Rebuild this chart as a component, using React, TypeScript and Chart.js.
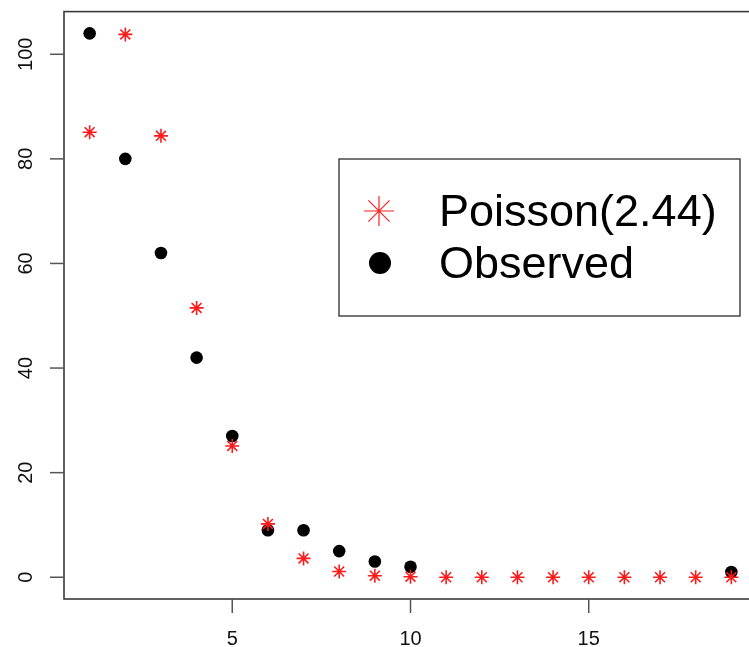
import React, { useEffect, useRef } from "react";
import { Chart, registerables } from "chart.js";

Chart.register(...registerables);

// ---- data ----
const observedX = [1, 2, 3, 4, 5, 6, 7, 8, 9, 10, 19];
const observedY = [104, 80, 62, 42, 27, 9, 9, 5, 3, 2, 1];
const poissonX = [1, 2, 3, 4, 5, 6, 7, 8, 9, 10, 11, 12, 13, 14, 15, 16, 17, 18, 19];
const poissonY = [85.1, 103.8, 84.4, 51.5, 25.1, 10.2, 3.6, 1.1, 0.3, 0.1, 0, 0, 0, 0, 0, 0, 0, 0, 0];
const xTicks = [5, 10, 15];
const yTicks = [0, 20, 40, 60, 80, 100];
const legendLabels = ["Poisson(2.44)", "Observed"];

const FONT = '"Liberation Sans", Arial, Helvetica, sans-serif';

const rAxesPlugin = {
  id: "rAxes",
  afterDraw(chart: any) {
    const { ctx, chartArea, scales } = chart;
    const { left, right, top, bottom } = chartArea;
    ctx.save();
    // box
    ctx.strokeStyle = "#3a3a3a";
    ctx.lineWidth = 1.6;
    ctx.strokeRect(left, top, right - left, bottom - top);
    // x ticks
    ctx.strokeStyle = "#555";
    ctx.lineWidth = 1.5;
    ctx.fillStyle = "#111";
    ctx.font = `20px ${FONT}`;
    ctx.textAlign = "center";
    ctx.textBaseline = "alphabetic";
    for (const v of xTicks) {
      const px = scales.x.getPixelForValue(v);
      ctx.beginPath();
      ctx.moveTo(px, bottom);
      ctx.lineTo(px, bottom + 14);
      ctx.stroke();
      ctx.fillText(String(v), px, 645);
    }
    // y ticks
    for (const v of yTicks) {
      const py = scales.y.getPixelForValue(v);
      ctx.beginPath();
      ctx.moveTo(left, py);
      ctx.lineTo(left - 14, py);
      ctx.stroke();
      ctx.save();
      ctx.translate(32, py);
      ctx.rotate(-Math.PI / 2);
      ctx.fillText(String(v), 0, 0);
      ctx.restore();
    }
    // legend
    const bx = 339, by = 159, bw = 401, bh = 157;
    ctx.fillStyle = "#fff";
    ctx.fillRect(bx, by, bw, bh);
    ctx.strokeStyle = "#3a3a3a";
    ctx.lineWidth = 1.4;
    ctx.strokeRect(bx, by, bw, bh);
    // star
    const sx = 379, sy = 211, sr = 15;
    ctx.strokeStyle = "#ff2020";
    ctx.lineWidth = 1.2;
    ctx.beginPath();
    for (let k = 0; k < 4; k++) {
      const a = (k * Math.PI) / 4;
      ctx.moveTo(sx - Math.cos(a) * sr, sy - Math.sin(a) * sr);
      ctx.lineTo(sx + Math.cos(a) * sr, sy + Math.sin(a) * sr);
    }
    ctx.stroke();
    // dot
    ctx.fillStyle = "#000";
    ctx.beginPath();
    ctx.arc(380, 263, 11, 0, Math.PI * 2);
    ctx.fill();
    ctx.font = `45px ${FONT}`;
    ctx.textAlign = "left";
    ctx.fillStyle = "#000";
    ctx.fillText(legendLabels[0], 439, 226);
    ctx.fillText(legendLabels[1], 439, 278);
    ctx.restore();
  },
};

export default function App() {
  const ref = useRef<HTMLCanvasElement>(null);
  useEffect(() => {
    document.body.style.margin = "0";
    const canvas = ref.current!;
    const chart = new Chart(canvas, {
      type: "scatter",
      data: {
        datasets: [
          {
            label: legendLabels[0],
            data: poissonX.map((x, i) => ({ x, y: poissonY[i] })),
            pointStyle: "star",
            pointRadius: 7,
            pointBorderColor: "#ff1a1a",
            pointBackgroundColor: "#ff1a1a",
            pointBorderWidth: 1.6,
            showLine: false,
          },
          {
            label: legendLabels[1],
            data: observedX.map((x, i) => ({ x, y: observedY[i] })),
            pointStyle: "circle",
            pointRadius: 6.3,
            pointBorderWidth: 0,
            pointBackgroundColor: "#000",
            pointBorderColor: "#000",
            showLine: false,
          },
        ],
      },
      options: {
        animation: false,
        responsive: false,
        events: [],
        layout: { padding: { left: 64, top: 11.6, bottom: 48, right: 13 } },
        plugins: { legend: { display: false }, tooltip: { enabled: false } },
        scales: {
          x: { type: "linear", min: 0.28, max: 19.72, display: false },
          y: { type: "linear", min: -4.16, max: 108.16, display: false },
        },
      },
      plugins: [rAxesPlugin],
    });
    return () => chart.destroy();
  }, []);
  return (
    <div style={{ width: 749, height: 647, overflow: "hidden", background: "#fff" }}>
      <canvas ref={ref} width={770} height={647} style={{ display: "block", width: 770, height: 647 }} />
    </div>
  );
}
